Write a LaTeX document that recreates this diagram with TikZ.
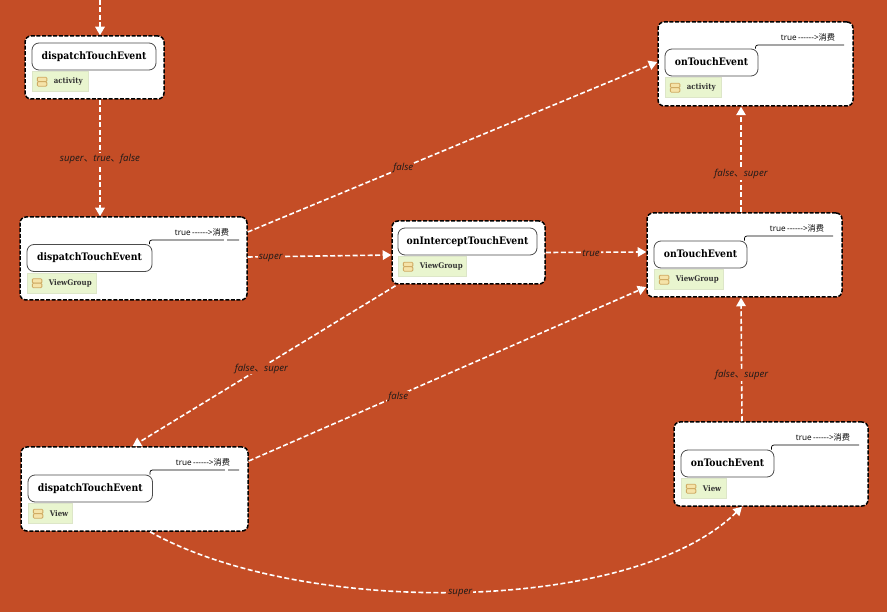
\documentclass[tikz,border=0pt]{standalone}
\usepackage{fontspec}
\setmainfont{DejaVu Serif Condensed}
\setsansfont{Open Sans}
\newfontfamily\cjkf{Noto Sans CJK SC}
\usetikzlibrary{arrows.meta}
\definecolor{bgc}{HTML}{C44D26}
\definecolor{tagc}{HTML}{E9F5CF}
\definecolor{tagb}{HTML}{DDE6C8}
\definecolor{iconf}{HTML}{F5E3A8}
\definecolor{iconb}{HTML}{CFAA62}
\tikzset{
 outerbox/.style={draw=black,fill=white,line width=1.5pt,dash pattern=on 4pt off 1.6pt,rounded corners=6pt,inner sep=0pt},
 titlebox/.style={draw=black!70,fill=white,line width=.8pt,rounded corners=7pt,inner sep=0pt,minimum height=27pt,text height=5.4pt,text depth=0pt,font=\bfseries\fontsize{10.3}{12}\selectfont},
 tagbox/.style={draw=tagb,fill=tagc,line width=.6pt,inner sep=0pt,minimum height=20pt},
 tagtext/.style={font=\bfseries\fontsize{7.8}{9}\selectfont,text=black!80,inner sep=0pt},
 iconbox/.style={draw=iconb,fill=iconf,line width=.8pt,rounded corners=1pt,inner sep=0pt,minimum width=9.5pt,minimum height=4.4pt},
 flow/.style={draw=white,line width=1.6pt,dash pattern=on 5pt off 2.5pt,-{Triangle[width=9.5pt,length=8.5pt,fill=white]}},
 edgelab/.style={fill=bgc,inner sep=1pt,yshift=-1pt,font=\sffamily\itshape\fontsize{9.6}{11}\selectfont,text=black!90},
 notetext/.style={font=\sffamily\fontsize{8.2}{10}\selectfont,text=black,inner sep=0pt},
 noteline/.style={draw=black,line width=.7pt,rounded corners=2.5pt},
}
\newcommand{\dun}{{\cjkf 、}}
\newcommand{\notelabel}{true{\,}-{}-{}-{}-{}-{}->{\cjkf 消费}}
\newcommand{\card}[9]{%
 \node[outerbox,minimum width=#4pt-#2pt,minimum height=#5pt-#3pt] (#1) at ({(#2+#4)/2},{(#3+#5)/2}) {};
 \node[titlebox,minimum width=#8pt] (#1t) at ({#6+#8/2},{#7+13.5}) {#9};
}
\newcommand{\tagcard}[3]{%
 \node[tagbox,minimum width=#2pt,anchor=north west] (#1g) at ([yshift=-1pt]#1t.south west) {};
 \node[iconbox] (#1ia) at ([xshift=10.5pt,yshift=2.3pt]#1g.west) {};
 \node[iconbox] (#1ib) at ([xshift=10.5pt,yshift=-2.3pt]#1g.west) {};
 \node[tagtext,anchor=west] (#1l) at ([xshift=22pt]#1g.west) {#3};
}
\newcommand{\notefor}[4]{%
 \coordinate (#1e) at (#3,#2);
 \draw[noteline] ([xshift=-3pt]#1t.north east) |- (#1e);
 \node[notetext,anchor=base] (#1n) at (#4,#2-4) {\notelabel};
}
\begin{document}
\begin{tikzpicture}[x=1pt,y=-1pt]
\useasboundingbox[fill=bgc] (0,0) rectangle (887,612);
\coordinate (top) at (100,0);
\card{A}{25}{36}{164}{99}{32}{43}{124}{dispatchTouchEvent}
\tagcard{A}{56}{activity}
\card{B}{20}{217}{247}{300}{27}{244.5}{125}{dispatchTouchEvent}
\tagcard{B}{69}{ViewGroup}
\card{C}{392}{221}{545}{284}{398}{228}{139}{onInterceptTouchEvent}
\tagcard{C}{68}{ViewGroup}
\card{D}{647}{213}{842}{297}{654}{241}{93}{onTouchEvent}
\tagcard{D}{69}{ViewGroup}
\card{E}{658}{22}{853}{106}{665}{49}{93}{onTouchEvent}
\tagcard{E}{56}{activity}
\card{F}{21}{447}{248}{531}{28}{475}{124.5}{dispatchTouchEvent}
\tagcard{F}{44}{View}
\card{G}{674}{422}{868}{506}{681}{450}{93}{onTouchEvent}
\tagcard{G}{45}{View}
\notefor{B}{240}{239}{202}
\notefor{D}{236}{833}{797}
\notefor{E}{45}{844}{808}
\notefor{F}{470}{239}{203}
\notefor{G}{445}{859}{823}
\fill[white] (224,239) rectangle (227,241);
\fill[white] (225,469) rectangle (228,471);
\draw[flow] (top) -- ([xshift=5.5pt]A.north);
\draw[flow] ([xshift=5.5pt]A.south) -- node[edgelab,pos=.5] {super\dun true\dun false} ([xshift=-33.5pt]B.north);
\draw[flow] ([yshift=26.5pt]B.east) -- node[edgelab,pos=.38] {false} ([yshift=2pt]E.west);
\draw[flow] ([yshift=1.5pt]B.east) -- node[edgelab,pos=.16] {super} ([yshift=-2.5pt]C.west);
\draw[flow] (C.east) -- node[edgelab,pos=.45] {true} ([yshift=3pt]D.west);
\draw[flow] ([xshift=-3.5pt]D.north) -- node[edgelab,pos=.37] {false\dun super} ([xshift=-14.5pt]E.south);
\draw[flow] ([xshift=-29pt]G.north) -- node[edgelab,pos=.38] {false\dun super} ([xshift=-3.5pt]D.south);
\draw[flow] ([xshift=-73pt,yshift=-1pt]C.south) -- node[edgelab,pos=.51] {false\dun super} ([xshift=-2pt]F.north);
\draw[flow] ([yshift=28pt]F.east) -- node[edgelab,pos=.376] {false} ([yshift=-32pt]D.west);
\draw[flow] ([xshift=15.5pt]F.south) .. controls (300,616) and (630,616) .. node[edgelab,pos=.5] {super} ([xshift=-29pt]G.south);
\end{tikzpicture}
\end{document}
